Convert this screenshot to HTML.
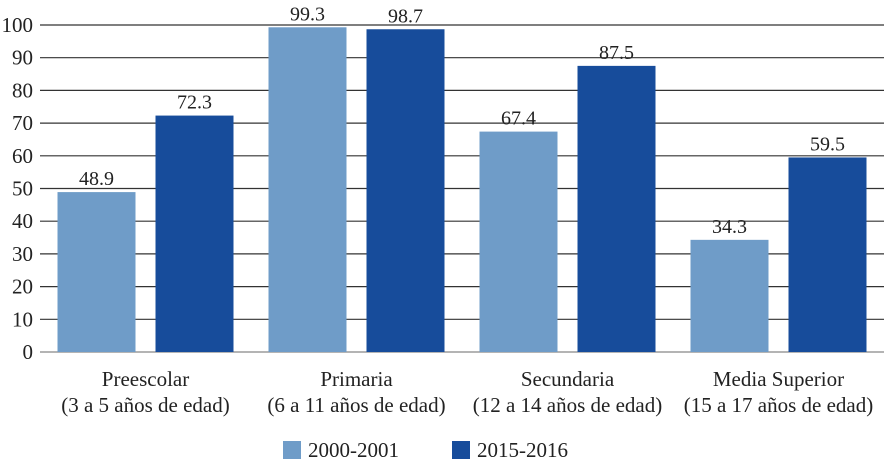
<!DOCTYPE html>
<html><head><meta charset="utf-8"><style>
html,body{margin:0;padding:0;background:#fff;}
svg{display:block;font-family:"Liberation Serif",serif;}
</style></head><body>
<svg id="c" width="884" height="467"></svg>
<script>
const categories=["Preescolar","Primaria","Secundaria","Media Superior"];
const subLabels=["(3 a 5 años de edad)","(6 a 11 años de edad)","(12 a 14 años de edad)","(15 a 17 años de edad)"];
const series2000=[48.9,99.3,67.4,34.3];
const series2015=[72.3,98.7,87.5,59.5];
const yTicks=[0,10,20,30,40,50,60,70,80,90,100];
const NS="http://www.w3.org/2000/svg";
const svg=document.getElementById('c');
const x0=40,x1=884,yb=352,yt=25;
const y=v=>yb-(v/100)*(yb-yt);
const groupW=(x1-x0)/categories.length;
function mk(t,a){const e=document.createElementNS(NS,t);for(const k in a)e.setAttribute(k,a[k]);svg.appendChild(e);return e;}
yTicks.forEach(t=>{
  const l=mk('line',{x1:x0,x2:x1,y1:y(t),y2:y(t),stroke:t===0?'#888':'#333','stroke-width':1.2});
  
  
  const tx=mk('text',{x:33,y:y(t)+7,'text-anchor':'end','font-size':21,fill:'#222'});
  tx.textContent=t;
  
  
});
const bw=78;
categories.forEach((c,i)=>{
  const cx=x0+groupW*(i+0.5);
  [[series2000[i],'#6f9cc8',cx-bw-10,'2000'],[series2015[i],'#174c9b',cx+10,'2015']].forEach(([v,col,bx,s])=>{
    const r=mk('rect',{x:bx,y:y(v),width:bw,height:yb-y(v),fill:col});
    
    
    const t=mk('text',{x:bx+bw/2,y:y(v)-7,'text-anchor':'middle','font-size':20,fill:'#222'});
    t.textContent=v.toFixed(1);
    
    
  });
  const t1=mk('text',{x:cx,y:386,'text-anchor':'middle','font-size':21,fill:'#222'});
  t1.textContent=c;
  
  
  const t2=mk('text',{x:cx,y:412,'text-anchor':'middle','font-size':21,fill:'#222'});
  t2.textContent=subLabels[i];
  
  
});
[['2000-2001','#6f9cc8',283],['2015-2016','#174c9b',452]].forEach(([n,col,lx])=>{
  const r=mk('rect',{x:lx,y:441,width:18,height:18,fill:col});
  
  
  const t=mk('text',{x:lx+25,y:457,'font-size':21,fill:'#222'});
  t.textContent=n;
  
  
});
</script>
</body></html>
